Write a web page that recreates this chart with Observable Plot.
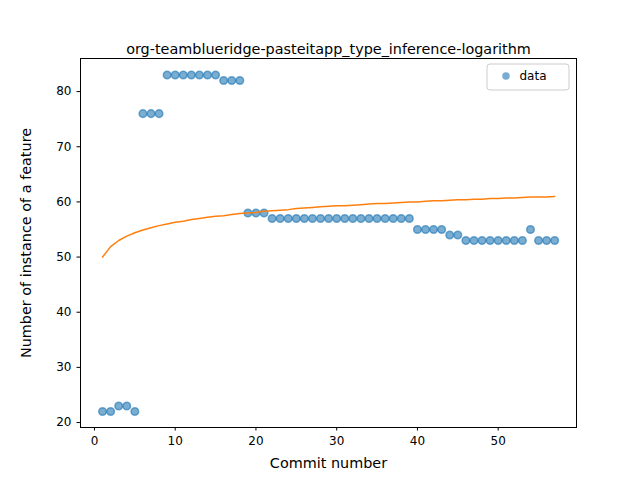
<!DOCTYPE html>
<html><head><meta charset="utf-8">
<script src="https://cdn.jsdelivr.net/npm/d3@7"></script>
<script src="https://cdn.jsdelivr.net/npm/@observablehq/plot@0.6"></script>
<style>body{margin:0;background:#fff} svg{font-family:"DejaVu Sans",sans-serif}</style>
</head><body><div id="chart"></div>
<script>
const commits = d3.range(1, 58)
const counts = [22,22,23,23,22,76,76,76,83,83,83,83,83,83,83,82,82,82,58,58,58,
  57,57,57,57,57,57,57,57,57,57,57,57,57,57,57,57,57,57,
  55,55,55,55,54,54,53,53,53,53,53,53,53,53,55,53,53,53]
const fit = [50,51.9,53.0,53.8,54.4,54.9,55.3,55.7,56.0,56.3,56.5,56.8,57.0,57.2,57.4,57.5,57.7,57.9,58.0,58.1,
  58.3,58.4,58.5,58.6,58.8,58.9,59.0,59.1,59.2,59.3,59.3,59.4,59.5,59.6,59.7,59.7,59.8,59.9,60.0,60.0,
  60.1,60.2,60.2,60.3,60.4,60.4,60.5,60.5,60.6,60.6,60.7,60.7,60.8,60.9,60.9,60.9,61.0]
const xTicks = [0,10,20,30,40,50]
const yTicks = [20,30,40,50,60,70,80]

const pts = commits.map((c, i) => ({c, v: counts[i], f: fit[i]}))

const chart = Plot.plot({
  width: 640, height: 480,
  marginLeft: 80, marginRight: 64, marginTop: 58, marginBottom: 53,
  style: {fontSize: "10px", fontFamily: "DejaVu Sans", color: "black"},
  x: {domain: [-1.73, 59.7], ticks: xTicks, tickSize: 3.5, label: "Commit number", labelArrow: "none", labelAnchor: "center", labelOffset: 40},
  y: {domain: [19.1, 86], ticks: yTicks, tickSize: 3.5, label: "Number of instance of a feature", labelArrow: "none", labelAnchor: "center", labelOffset: 60},
  marks: [
    Plot.frame({stroke: "black"}),
    Plot.dot(pts, {x: "c", y: "v", r: 3.8, fill: "#1f77b4", fillOpacity: 0.6, stroke: "#1f77b4", strokeOpacity: 0.6}),
    Plot.line(pts, {x: "c", y: "f", stroke: "#ff7f0e", strokeWidth: 1.5}),
    Plot.text(["org-teamblueridge-pasteitapp_type_inference-logarithm"], {frameAnchor: "top", dy: -15, fontSize: 14.4})
  ]
})
const svg = d3.select(chart)
svg.selectAll("[aria-label='x-axis label'] text, [aria-label='y-axis label'] text").style("font-size", "14.4px")
svg.selectAll("[aria-label='x-axis tick label'] text, [aria-label='y-axis tick label'] text").style("font-size", "12px")
const lg = svg.append("g")
lg.append("rect").attr("x", 487).attr("y", 64).attr("width", 82).attr("height", 26).attr("rx", 3)
  .attr("fill", "white").attr("stroke", "#ccc")
lg.append("circle").attr("cx", 506).attr("cy", 76).attr("r", 3.8).attr("fill", "#1f77b4").attr("fill-opacity", 0.6)
lg.append("text").attr("x", 533).attr("y", 80).attr("font-size", 12).text("data")
d3.select('#chart').append(() => chart)
</script></body></html>
